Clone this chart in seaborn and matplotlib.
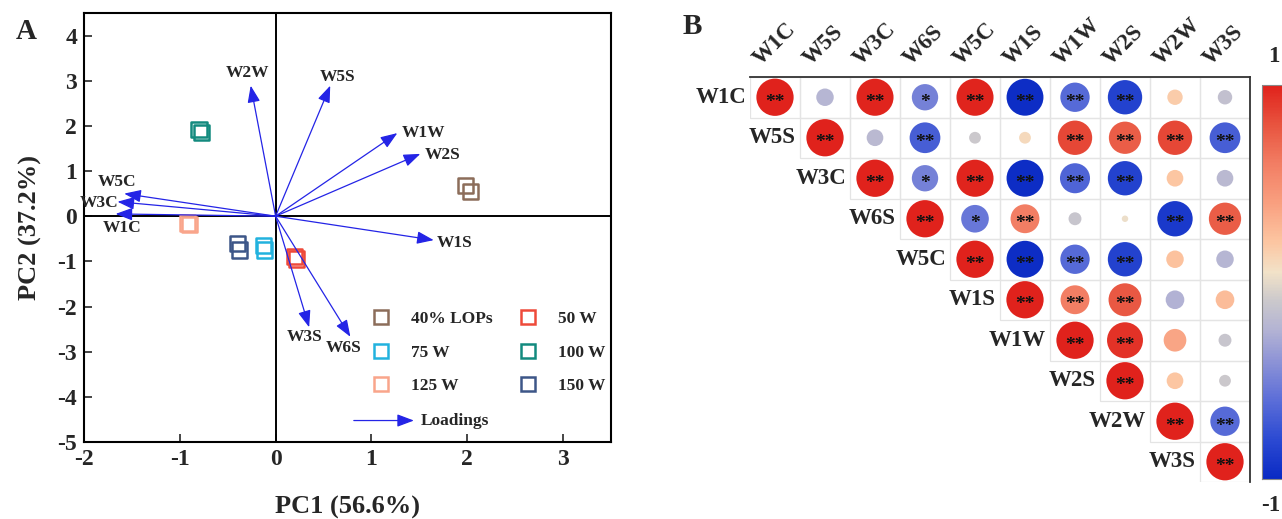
import numpy as np
import pandas as pd
import matplotlib
matplotlib.use("Agg")
import matplotlib.pyplot as plt
from matplotlib.colors import LinearSegmentedColormap, Normalize
from matplotlib.lines import Line2D
from matplotlib.patches import Rectangle
import matplotlib.cm as cm
import seaborn as sns

# ---------------- data: panel A (PCA biplot) ----------------
groups = ["40% LOPs", "40% LOPs", "75 W", "75 W", "125 W", "125 W",
          "50 W", "50 W", "100 W", "100 W", "150 W", "150 W"]
pc1_scores = [1.98, 2.03, -0.13, -0.12, -0.92, -0.90, 0.20, 0.22, -0.80, -0.77, -0.40, -0.38]
pc2_scores = [0.68, 0.55, -0.65, -0.75, -0.15, -0.18, -0.90, -0.95, 1.92, 1.85, -0.60, -0.75]
legend_order = ["40% LOPs", "75 W", "125 W", "50 W", "100 W", "150 W"]
group_colors = ["#8c6d5a", "#22b2de", "#f9a58b", "#ee4a3a", "#138a7e", "#3d5688"]

sensors = ["W2W", "W5S", "W1W", "W2S", "W1S", "W3S", "W6S", "W5C", "W3C", "W1C"]
load_pc1 = [-0.26, 0.57, 1.27, 1.51, 1.65, 0.35, 0.78, -1.58, -1.65, -1.67]
load_pc2 = [2.89, 2.89, 1.84, 1.38, -0.53, -2.46, -2.67, 0.50, 0.32, 0.05]
# label offsets (points) from the arrow tips
label_dx = [-2, 5, 19, 16, 15, -3, -5, -5, -13, 5]
label_dy = [9, 6, 0, -1, -2, -7, -8, 8, -1, -10]

# ---------------- data: panel B (correlation matrix, upper triangle) ----------------
var_order = ["W1C", "W5S", "W3C", "W6S", "W5C", "W1S", "W1W", "W2S", "W2W", "W3S"]
r_W1C = [1, -0.22, 0.99, -0.50, 0.99, -0.98, -0.62, -0.85, 0.17, -0.15]
r_W5S = [1, -0.20, -0.68, -0.10, 0.10, 0.85, 0.75, 0.85, -0.68]
r_W3C = [1, -0.50, 0.99, -0.98, -0.65, -0.85, 0.20, -0.20]
r_W6S = [1, -0.55, 0.60, -0.12, 0.03, -0.90, 0.75]
r_W5C = [1, -0.98, -0.62, -0.85, 0.22, -0.22]
r_W1S = [1, 0.60, 0.78, -0.25, 0.25]
r_W1W = [1, 0.93, 0.37, -0.12]
r_W2S = [1, 0.20, -0.10]
r_W2W = [1, -0.62]
r_W3S = [1]
s_W1C = ["**", "", "**", "*", "**", "**", "**", "**", "", ""]
s_W5S = ["**", "", "**", "", "", "**", "**", "**", "**"]
s_W3C = ["**", "*", "**", "**", "**", "**", "", ""]
s_W6S = ["**", "*", "**", "", "", "**", "**"]
s_W5C = ["**", "**", "**", "**", "", ""]
s_W1S = ["**", "**", "**", "", ""]
s_W1W = ["**", "**", "", ""]
s_W2S = ["**", "", ""]
s_W2W = ["**", "**"]
s_W3S = ["**"]

r_rows = [r_W1C, r_W5S, r_W3C, r_W6S, r_W5C, r_W1S, r_W1W, r_W2S, r_W2W, r_W3S]
s_rows = [s_W1C, s_W5S, s_W3C, s_W6S, s_W5C, s_W1S, s_W1W, s_W2S, s_W2W, s_W3S]

recs = []
for i, (rr, ss) in enumerate(zip(r_rows, s_rows)):
    for k, (v, s) in enumerate(zip(rr, ss)):
        j = i + k
        recs.append(dict(row=i, col=j, r=v, absr=abs(v), sig=s))
corr_df = pd.DataFrame(recs)

# ---------------- style ----------------
sns.set_theme(style="white")
plt.rcParams["font.family"] = ["Liberation Serif", "DejaVu Serif"]
plt.rcParams["font.weight"] = "bold"
plt.rcParams["axes.labelweight"] = "bold"
plt.rcParams["axes.unicode_minus"] = False

fig = plt.figure(figsize=(12.82, 5.19), dpi=100)

# ================= Panel A =================
ax = fig.add_axes([0.0655, 0.1484, 0.4111, 0.8266])
score_df = pd.DataFrame(dict(PC1=pc1_scores, PC2=pc2_scores, group=groups))
sns.scatterplot(data=score_df, x="PC1", y="PC2", hue="group", hue_order=legend_order,
                palette=group_colors, marker="s", s=120, linewidth=0, legend=False, ax=ax, zorder=3)
coll = ax.collections[-1]
fc = coll.get_facecolors()
coll.set_edgecolors(fc)
coll.set_facecolors("none")
coll.set_linewidths(1.8)

ax.axhline(0, color="black", lw=1.4, zorder=1)
ax.axvline(0, color="black", lw=1.4, zorder=1)

arrow_blue = "#2424e6"
for name, x, y, dx, dy in zip(sensors, load_pc1, load_pc2, label_dx, label_dy):
    ax.annotate("", xy=(x, y), xytext=(0, 0),
                arrowprops=dict(arrowstyle="-|>,head_length=0.85,head_width=0.32", color=arrow_blue,
                                lw=0.9, shrinkA=0, shrinkB=0), zorder=4)
    ax.annotate(name, xy=(x, y), xytext=(dx, dy), textcoords="offset points",
                ha="center", va="center", fontsize=12.5, fontweight="bold", zorder=5)

ax.set_xlim(-2, 3.5)
ax.set_ylim(-5, 4.5)
ax.set_xticks(range(-2, 4))
ax.set_yticks(range(-5, 5))
ax.tick_params(direction="in", length=6, width=1.2, labelsize=17, left=True, bottom=True,
               top=False, right=False, pad=5)
for lab in ax.get_xticklabels() + ax.get_yticklabels():
    lab.set_fontweight("bold")
for sp in ax.spines.values():
    sp.set_linewidth(1.5)
    sp.set_color("black")
ax.set_xlabel("PC1 (56.6%)", fontsize=19, fontweight="bold", labelpad=19)
ax.set_ylabel("PC2 (37.2%)", fontsize=19, fontweight="bold", labelpad=11)

handles = [Line2D([], [], marker="s", ls="none", mfc="none", mec=c, ms=9.5, mew=1.8)
           for c in group_colors]
leg = ax.legend(handles, legend_order, ncol=2, loc="upper left", bbox_to_anchor=(0.548, 0.305),
                frameon=False, fontsize=12.5, handlelength=1.0, handletextpad=1.2,
                columnspacing=1.55, labelspacing=1.0, borderpad=0, borderaxespad=0)
for t in leg.get_texts():
    t.set_fontweight("bold")
ax.annotate("", xy=(0.626, 0.05), xytext=(0.512, 0.05), xycoords="axes fraction",
            arrowprops=dict(arrowstyle="-|>,head_length=0.85,head_width=0.32", color=arrow_blue,
                            lw=0.9, shrinkA=0, shrinkB=0))
ax.text(0.638, 0.05, "Loadings", transform=ax.transAxes, ha="left", va="center",
        fontsize=12.5, fontweight="bold")

fig.text(0.012, 0.94, "A", fontsize=21, fontweight="bold", ha="left", va="center")

# ================= Panel B =================
n = len(var_order)
bx = fig.add_axes([750 / 1282, 1 - 482 / 519, 500 / 1282, 405 / 519])
anchors = [(-1.0, "#0a2ac4"), (-0.8, "#2c4ad2"), (-0.6, "#5c6ed8"), (-0.4, "#8e94d6"),
           (-0.25, "#b2b2d4"), (-0.1, "#cac8cc"), (0.05, "#f2e2c8"), (0.2, "#fcc6a2"),
           (0.4, "#f9a080"), (0.6, "#f27e64"), (0.8, "#e8543f"), (1.0, "#e0221c")]
cmap = LinearSegmentedColormap.from_list("rb", [((v + 1) / 2, c) for v, c in anchors])
norm = Normalize(-1, 1)

for i in range(n):
    for j in range(i, n):
        bx.add_patch(Rectangle((j - 0.5, i - 0.5), 1, 1, fill=False, ec="#e4e4e4", lw=0.9, zorder=1))

sns.scatterplot(data=corr_df, x="col", y="row", hue="r", palette=cmap, hue_norm=norm,
                size="absr", sizes=(0, 720), size_norm=(0, 1), linewidth=0,
                legend=False, ax=bx, zorder=3)
for _, rw in corr_df.iterrows():
    if rw["sig"]:
        bx.text(rw["col"], rw["row"] + 0.12, rw["sig"], ha="center", va="center",
                fontsize=14, color="#111111", zorder=4)

bx.set_xlim(-0.5, n - 0.5)
bx.set_ylim(n - 0.5, -0.5)
bx.set_xticks([])
bx.set_yticks([])
bx.set_xlabel("")
bx.set_ylabel("")
for side in ["left", "bottom"]:
    bx.spines[side].set_visible(False)
for side in ["top", "right"]:
    bx.spines[side].set_visible(True)
    bx.spines[side].set_color("#333333")
    bx.spines[side].set_linewidth(1.3)

for i, name in enumerate(var_order):
    bx.text(i - 0.58, i, name, ha="right", va="center", fontsize=16.5, fontweight="bold")
    bx.text(i - 0.22, -0.68, name, ha="left", va="bottom", rotation=45, rotation_mode="anchor",
            fontsize=16.5, fontweight="bold")

cax = fig.add_axes([1262 / 1282, 1 - 479 / 519, 30 / 1282, 394 / 519])
cb = fig.colorbar(cm.ScalarMappable(norm=norm, cmap=cmap), cax=cax)
cb.set_ticks([])
cb.outline.set_edgecolor("#888888")
cb.outline.set_linewidth(0.8)
cax.text(0.4, 1.045, "1", transform=cax.transAxes, ha="center", va="bottom",
         fontsize=16.5, fontweight="bold")
cax.text(0.3, -0.04, "-1", transform=cax.transAxes, ha="center", va="top",
         fontsize=16.5, fontweight="bold")

fig.text(692 / 1282, 1 - 27 / 519, "B", fontsize=21, fontweight="bold", ha="center", va="center")

fig.savefig("out.png", dpi=100)
